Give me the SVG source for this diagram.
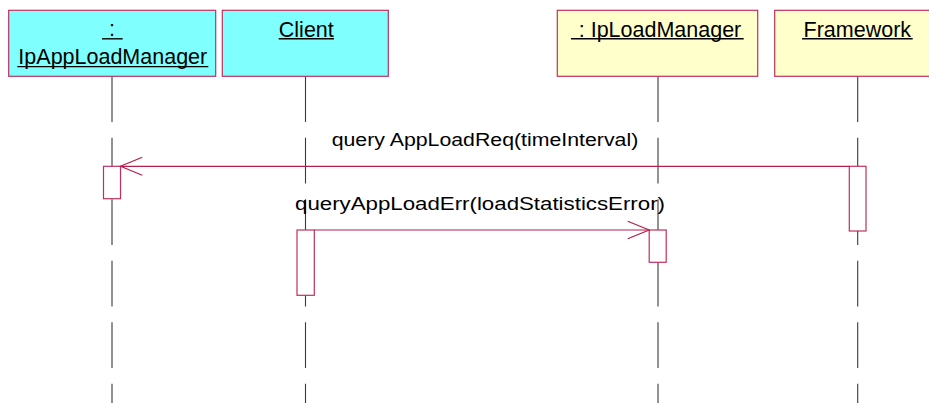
<svg xmlns="http://www.w3.org/2000/svg" width="929" height="403" viewBox="0 0 929 403">
<style>
  .hdr-c { fill: #80FFFF; stroke: #C0305E; stroke-width: 1.2; }
  .hdr-y { fill: #FFFFCC; stroke: #C0305E; stroke-width: 1.2; }
  .ht { font-family: "Liberation Sans", Arial, sans-serif; font-size: 21.5px; fill: #000; text-anchor: middle; }
  .ul { stroke: #000; stroke-width: 1.4; }
  .life { stroke: #3a3a3a; stroke-width: 1.1; stroke-dasharray: 45.7 15.8; fill: none; }
  .act { fill: #fff; stroke: #C0305E; stroke-width: 1.2; }
  .msg { stroke: #B3204C; stroke-width: 1.2; fill: none; }
  .mt { font-family: "Liberation Sans", Arial, sans-serif; font-size: 17.5px; fill: #000; }
</style>
<rect width="929" height="403" fill="#fff"/>

<g id="lifelines">
  <line class="life" x1="112" y1="76.3" x2="112" y2="403"/>
  <line class="life" x1="305.5" y1="76.3" x2="305.5" y2="403"/>
  <line class="life" x1="658" y1="76.3" x2="658" y2="403"/>
  <line class="life" x1="857.7" y1="76.3" x2="857.7" y2="403"/>
</g>

<g id="IpAppLoadManager">
  <rect class="hdr-c" x="8.7" y="10.3" width="207" height="66"/>
  <text class="ht" x="112" y="36">:</text>
  <line class="ul" x1="102" y1="38.8" x2="122.7" y2="38.8"/>
  <text class="ht" x="112.8" y="64">IpAppLoadManager</text>
  <line class="ul" x1="17.3" y1="66.6" x2="208.3" y2="66.6"/>
  <rect class="act" x="103.5" y="166.3" width="17" height="32.4"/>
</g>

<g id="Client">
  <rect class="hdr-c" x="222.3" y="10.3" width="166" height="66"/>
  <text class="ht" x="306.3" y="36.5">Client</text>
  <line class="ul" x1="278.7" y1="38.8" x2="334" y2="38.8"/>
  <rect class="act" x="297" y="230" width="17.3" height="65.3"/>
</g>

<g id="IpLoadManager">
  <rect class="hdr-y" x="557.3" y="10.3" width="200.4" height="66"/>
  <text class="ht" x="660" y="36.5">: IpLoadManager</text>
  <line class="ul" x1="571" y1="38.8" x2="743.7" y2="38.8"/>
  <rect class="act" x="649.2" y="230" width="17" height="32.3"/>
</g>

<g id="Framework">
  <rect class="hdr-y" x="774.7" y="10.3" width="160" height="66"/>
  <text class="ht" x="857.3" y="36.5">Framework</text>
  <line class="ul" x1="802" y1="38.8" x2="912.7" y2="38.8"/>
  <rect class="act" x="849.3" y="166.3" width="16.7" height="64.7"/>
</g>

<g id="connectors">
  <line class="msg" x1="849.3" y1="166.3" x2="120.5" y2="166.3"/>
  <polyline class="msg" points="142.3,157.3 120.5,166.3 142.3,175.3"/>
  <text class="mt" x="331.7" y="145.7" textLength="306.6" lengthAdjust="spacingAndGlyphs">query AppLoadReq(timeInterval)</text>

  <line class="msg" x1="314.3" y1="230" x2="649.2" y2="230"/>
  <polyline class="msg" points="627.7,221.2 649.2,230 627.7,238.8"/>
  <text class="mt" x="295" y="210" textLength="370" lengthAdjust="spacingAndGlyphs">queryAppLoadErr(loadStatisticsError)</text>
</g>
</svg>
